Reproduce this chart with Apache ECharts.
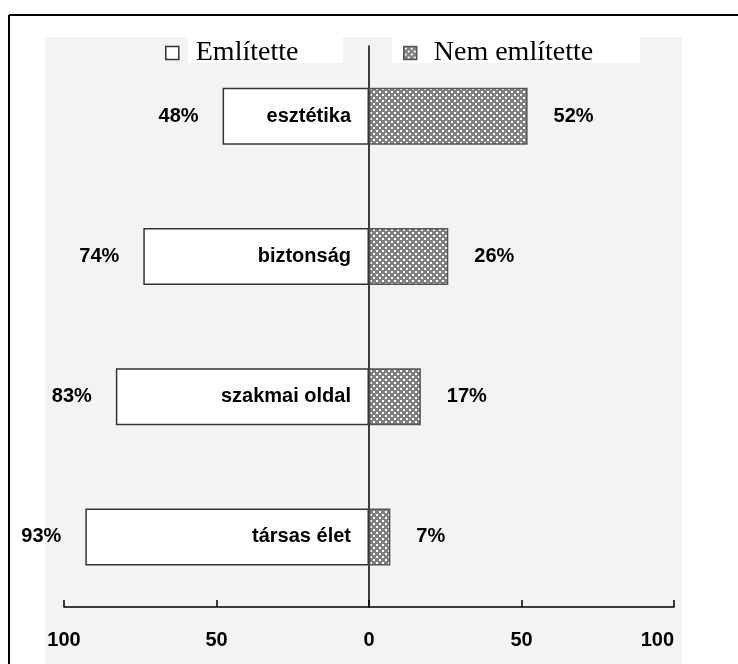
<!DOCTYPE html>
<html>
<head>
<meta charset="utf-8">
<script src="https://cdn.jsdelivr.net/npm/echarts@6/dist/echarts.min.js"></script>
<style>
html,body{margin:0;padding:0;background:#fff;}
#chart{width:738px;height:664px;}
</style>
</head>
<body>
<div id="chart"></div>
<script>
var categories = ['esztétika', 'biztonság', 'szakmai oldal', 'társas élet'];
var emlitette = [48, 74, 83, 93];
var nemEmlitette = [52, 26, 17, 7];
var tickLabels = { '-100': '100', '-50': '50', '0': '0', '50': '50', '100': '100' };

function makePattern() {
  var c = document.createElement('canvas');
  c.width = 6; c.height = 6;
  var ctx = c.getContext('2d');
  ctx.fillStyle = '#808080';
  ctx.fillRect(0, 0, 6, 6);
  ctx.fillStyle = '#ffffff';
  ctx.fillRect(1, 1, 2, 2);
  ctx.fillRect(4, 4, 2, 2);
  return c;
}
var pattern = { image: makePattern(), repeat: 'repeat' };

var chart = echarts.init(document.getElementById('chart'));
var labelFont = { fontFamily: 'Liberation Sans, Arial, sans-serif', fontWeight: 'bold', fontSize: 20, color: '#000' };

chart.setOption({
  backgroundColor: '#ffffff',
  animation: false,
  graphic: [
    { type: 'rect', shape: { x: 45, y: 37, width: 637, height: 640 }, style: { fill: '#f3f3f3' }, z: -10 },
    { type: 'rect', shape: { x: 188, y: 37, width: 155, height: 26 }, style: { fill: '#ffffff' }, z: -9 },
    { type: 'rect', shape: { x: 392, y: 37, width: 248, height: 26 }, style: { fill: '#ffffff' }, z: -9 },
    { type: 'line', shape: { x1: 9, y1: 15, x2: 738, y2: 15 }, style: { stroke: '#000', lineWidth: 2 }, z: 10 },
    { type: 'line', shape: { x1: 9, y1: 15, x2: 9, y2: 664 }, style: { stroke: '#000', lineWidth: 2 }, z: 10 }
  ],
  legend: [
    {
      left: 160, top: 34,
      data: [{ name: 'Említette', itemStyle: { color: '#ffffff', borderColor: '#333', borderWidth: 1.5 } }],
      itemWidth: 13, itemHeight: 13, icon: 'rect',
      textStyle: { fontFamily: 'Liberation Serif, Times New Roman, serif', fontSize: 28, color: '#000', padding: [0, 0, 0, 12] }
    },
    {
      left: 398, top: 34,
      data: [{ name: 'Nem említette', itemStyle: { color: pattern, borderColor: '#555', borderWidth: 1.5 } }],
      itemWidth: 13, itemHeight: 13, icon: 'rect',
      textStyle: { fontFamily: 'Liberation Serif, Times New Roman, serif', fontSize: 28, color: '#000', padding: [0, 0, 0, 12] }
    }
  ],
  grid: { left: 64, right: 64, top: 46, bottom: 57 },
  xAxis: {
    type: 'value', min: -100, max: 100, interval: 50,
    axisLine: { show: true, onZero: false, lineStyle: { color: '#000', width: 1.5 } },
    axisTick: { show: true, inside: true, length: 7, lineStyle: { color: '#000', width: 1.5 } },
    splitLine: { show: false },
    axisLabel: Object.assign({ margin: 23, alignMaxLabel: 'right', formatter: function (v) { return tickLabels[String(v)]; } }, labelFont)
  },
  yAxis: {
    type: 'category', data: categories, inverse: true,
    axisLine: { show: true, onZero: true, lineStyle: { color: '#000', width: 1.5 } },
    axisTick: { show: false },
    axisLabel: { show: false },
    splitLine: { show: false }
  },
  series: [
    {
      name: 'Említette', type: 'bar', stack: 'total', barWidth: 57,
      data: emlitette.map(function (v) { return -v; }),
      itemStyle: { color: '#ffffff', borderColor: '#333', borderWidth: 1.5 },
      label: Object.assign({ show: true, position: 'insideRight', distance: 18, formatter: function (p) { return categories[p.dataIndex]; } }, labelFont),
      z: 2
    },
    {
      name: 'Nem említette', type: 'bar', stack: 'total', barWidth: 57,
      data: nemEmlitette,
      itemStyle: { color: pattern, borderColor: '#555', borderWidth: 1.5 },
      label: Object.assign({ show: true, position: 'right', distance: 26, formatter: function (p) { return p.value + '%'; } }, labelFont),
      z: 2
    },
    {
      name: 'pctLeft', type: 'scatter', symbolSize: 0, itemStyle: { color: '#000', opacity: 1 },
      data: emlitette.map(function (v, i) { return [-v, categories[i]]; }),
      label: Object.assign({ show: true, position: 'left', distance: 24, formatter: function (p) { return emlitette[p.dataIndex] + '%'; } }, labelFont),
      z: 3
    }
  ]
});
</script>
</body>
</html>
